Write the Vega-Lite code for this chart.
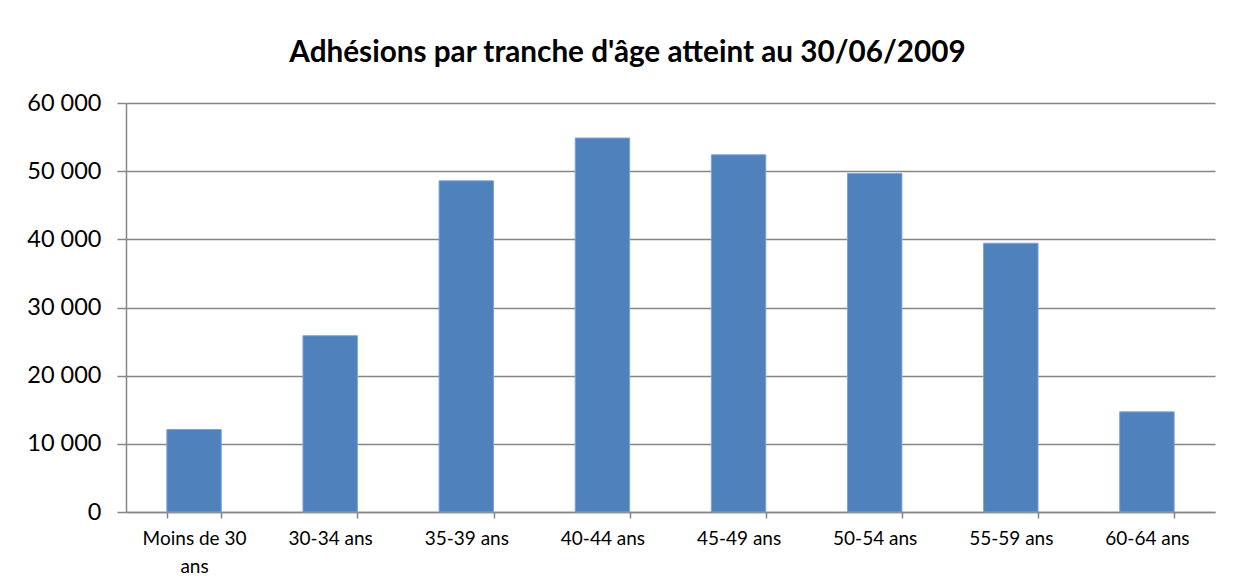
{
  "$schema": "https://vega.github.io/schema/vega-lite/v6.json",
  "width": 1089,
  "height": 409,
  "autosize": "none",
  "padding": {"left": 126, "top": 103, "right": 19, "bottom": 74},
  "background": "white",
  "title": {
    "text": "Adhésions par tranche d'âge atteint au 30/06/2009",
    "font": "Lato",
    "fontSize": 29.7,
    "fontWeight": "bold",
    "color": "black",
    "anchor": "middle",
    "frame": "group",
    "baseline": "alphabetic",
    "offset": -1,
    "dx": -43
  },
  "data": {
    "values": [
      {"tranche": "Moins de 30 ans", "adhesions": 12100},
      {"tranche": "30-34 ans", "adhesions": 25860},
      {"tranche": "35-39 ans", "adhesions": 48580},
      {"tranche": "40-44 ans", "adhesions": 54860},
      {"tranche": "45-49 ans", "adhesions": 52400},
      {"tranche": "50-54 ans", "adhesions": 49660},
      {"tranche": "55-59 ans", "adhesions": 39430},
      {"tranche": "60-64 ans", "adhesions": 14690}
    ]
  },
  "mark": {"type": "bar", "color": "#4F81BD", "stroke": "#7FA3D3", "strokeWidth": 1},
  "encoding": {
    "x": {
      "field": "tranche",
      "type": "nominal",
      "sort": null,
      "scale": {"paddingInner": 0.6, "paddingOuter": 0.3},
      "axis": {
        "title": null,
        "labelAngle": 0,
        "tickBand": "extent",
        "labelExpr": "datum.label == 'Moins de 30 ans' ? ['Moins de 30', 'ans'] : datum.label",
        "labelFont": "Lato",
        "labelFontSize": 19,
        "labelColor": "black",
        "labelLineHeight": 28,
        "labelPadding": 11,
        "tickSize": 6,
        "tickColor": "#868686",
        "tickWidth": 1.5,
        "domainColor": "#868686",
        "domainWidth": 1.5,
        "labelBaseline": "top"
      }
    },
    "y": {
      "field": "adhesions",
      "type": "quantitative",
      "scale": {"domain": [0, 60000], "nice": false},
      "axis": {
        "title": null,
        "values": [0, 10000, 20000, 30000, 40000, 50000, 60000],
        "labelExpr": "replace(format(datum.value, ','), ',', ' ')",
        "labelFont": "Lato",
        "labelFontSize": 23.5,
        "labelColor": "black",
        "labelPadding": 16,
        "tickSize": 9,
        "tickColor": "#868686",
        "tickWidth": 1.5,
        "domainColor": "#868686",
        "domainWidth": 1.5,
        "gridColor": "#868686",
        "gridWidth": 1.5,
        "gridOpacity": 1
      }
    }
  },
  "config": {"view": {"stroke": null}}
}
